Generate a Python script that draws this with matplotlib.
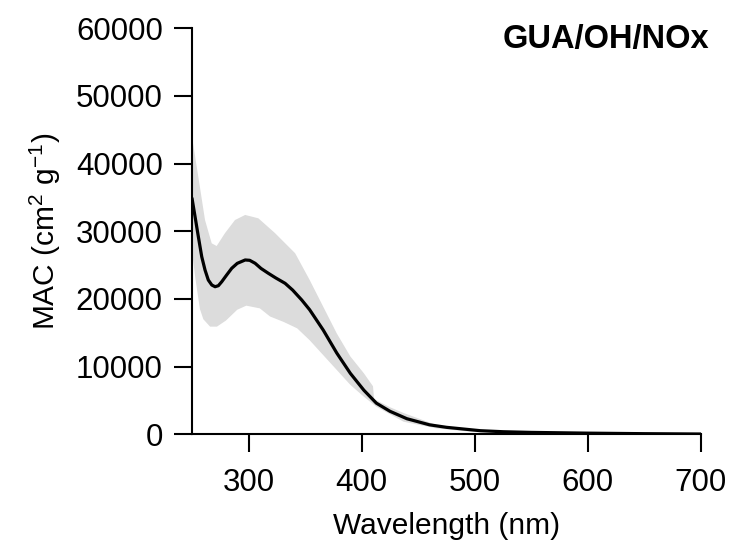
import numpy as np
import matplotlib
matplotlib.use("Agg")
import matplotlib.pyplot as plt

plt.rcParams["font.family"] = ["Liberation Sans", "DejaVu Sans"]
plt.rcParams["mathtext.fontset"] = "custom"
plt.rcParams["mathtext.rm"] = "Liberation Sans"
plt.rcParams["mathtext.it"] = "Liberation Sans"

# mean MAC spectrum
wl_mean = [250, 252.7, 255.6, 258.6, 261.5, 264.4, 267.5, 270.4, 273.3, 276.3,
           280.5, 285.1, 290, 297, 301, 305.8, 311, 317.5, 324, 332.3, 339,
           347, 354, 366, 378, 390, 402, 413, 425, 440, 460, 475, 505, 525,
           550, 600, 650, 700]
mac_mean = [34860, 32140, 29190, 26230, 24270, 22790, 22050, 21800, 21950,
            22540, 23500, 24520, 25250, 25750, 25700, 25260, 24500, 23780,
            23100, 22300, 21300, 19840, 18400, 15400, 12000, 9000, 6500, 4600,
            3400, 2300, 1400, 1030, 530, 380, 280, 170, 90, 40]

# upper edge of uncertainty band
wl_up = [250, 255.6, 261.5, 267.4, 271.8, 279.1, 288, 297, 308.7, 323.5,
         341.2, 354, 366, 378, 390, 402, 410, 411, 425, 437, 466, 496, 550,
         600, 650, 700]
mac_up = [43960, 38000, 31650, 28210, 27810, 29700, 31650, 32400, 31900,
          29700, 26740, 22800, 18850, 14900, 11500, 9000, 7100, 5200, 4000,
          3150, 1370, 690, 350, 200, 100, 50]

# lower edge of uncertainty band
wl_lo = [250, 253, 257, 260, 266, 272, 280, 290, 298, 310, 319, 331, 343,
         354, 366, 378, 390, 402, 413, 437, 466, 496, 550, 600, 650, 700]
mac_lo = [27000, 23000, 18500, 17000, 15900, 15900, 16800, 18400, 19000,
          18600, 17400, 16600, 15650, 13900, 11700, 9500, 7300, 5550, 4080,
          1860, 880, 390, 200, 130, 70, 30]

x_ticks = [300, 400, 500, 600, 700]
y_ticks = [0, 10000, 20000, 30000, 40000, 50000, 60000]

fig = plt.figure(figsize=(7.34, 5.51), dpi=100)
ax = fig.add_axes([0.2616, 0.2118, 0.955 - 0.2616, 0.949 - 0.2118])

band_x = np.concatenate([wl_up, wl_lo[::-1]])
band_y = np.concatenate([mac_up, mac_lo[::-1]])
ax.fill(band_x, band_y, color="#dcdcdc", linewidth=0)
ax.plot(wl_mean, mac_mean, color="black", linewidth=2.3,
        solid_joinstyle="round", solid_capstyle="round")

ax.set_xlim(250, 700)
ax.set_ylim(0, 60000)
ax.set_xticks(x_ticks)
ax.set_yticks(y_ticks)

for s in ["top", "right"]:
    ax.spines[s].set_visible(False)
for s in ["left", "bottom"]:
    ax.spines[s].set_linewidth(1.5)

ax.tick_params(axis="both", direction="out", length=13, width=1.5,
               labelsize=22.5)
ax.tick_params(axis="y", pad=8)
ax.tick_params(axis="x", pad=11)

ax.set_xlabel("Wavelength (nm)", fontsize=21.5, labelpad=10)
ax.set_ylabel(r"MAC (cm$^{2}$ g$^{-1}$)", fontsize=21.5, labelpad=9)

ax.text(1.017, 1.01, "GUA/OH/NOx", transform=ax.transAxes, ha="right",
        va="top", fontsize=23.5, fontweight="bold")

fig.savefig("out.png", dpi=100)
